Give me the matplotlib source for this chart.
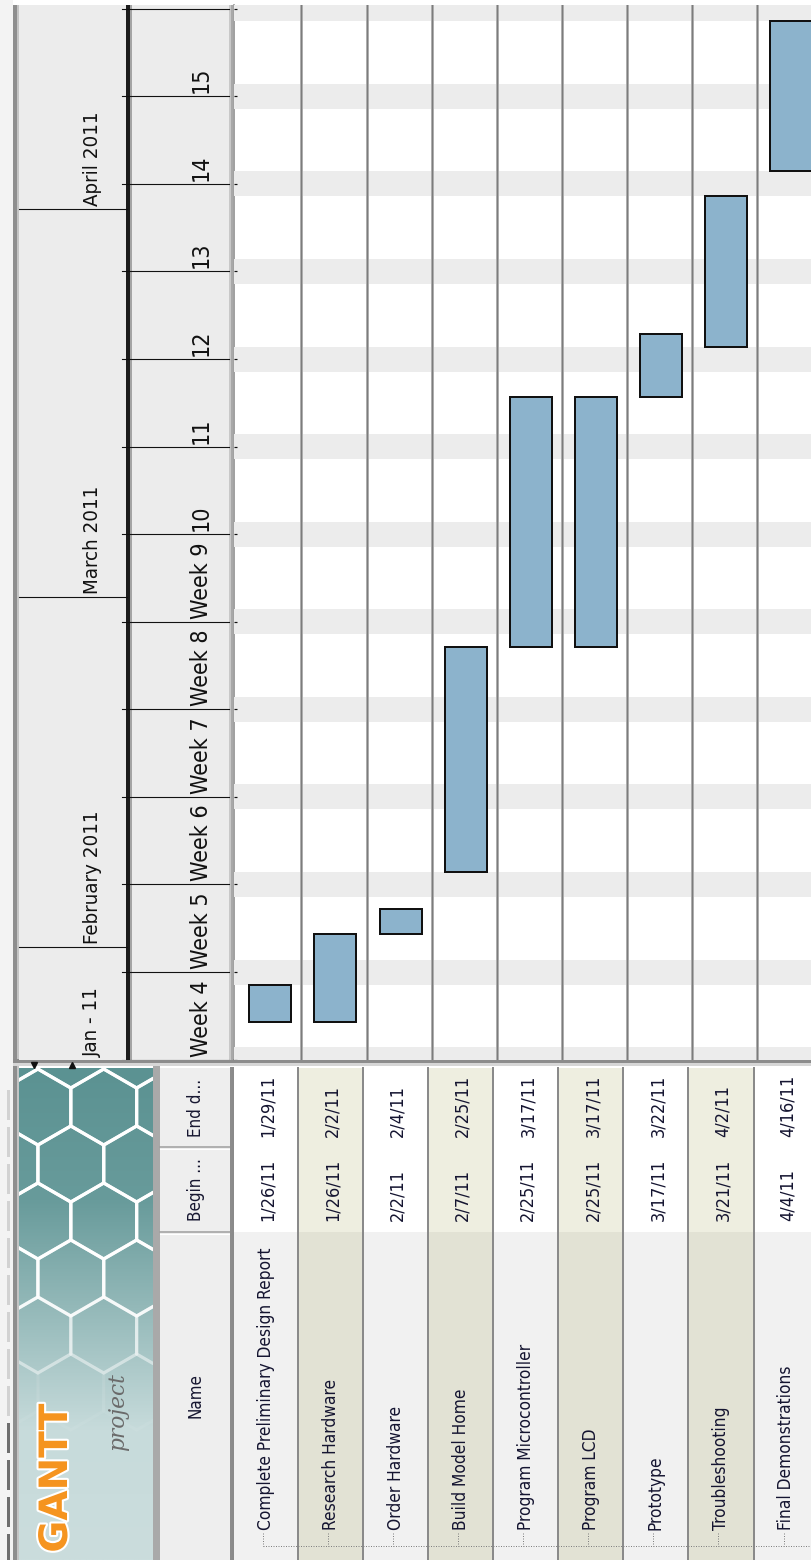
import datetime as dt
import numpy as np
import matplotlib
matplotlib.use("Agg")
import matplotlib.pyplot as plt
import matplotlib.dates as mdates
import matplotlib.patheffects as pe
from matplotlib import font_manager
from matplotlib.colors import to_rgb
from matplotlib.patches import Rectangle, RegularPolygon

# ---------------- data ----------------
tasks = ["Complete Preliminary Design Report", "Research Hardware", "Order Hardware",
         "Build Model Home", "Program Microcontroller", "Program LCD", "Prototype",
         "Troubleshooting", "Final Demonstrations"]
begin_labels = ["1/26/11", "1/26/11", "2/2/11", "2/7/11", "2/25/11", "2/25/11",
                "3/17/11", "3/21/11", "4/4/11"]
end_labels = ["1/29/11", "2/2/11", "2/4/11", "2/25/11", "3/17/11", "3/17/11",
              "3/22/11", "4/2/11", "4/16/11"]
month_labels = ["Jan - 11", "February 2011", "March 2011", "April 2011"]
month_starts = ["2011-01-23", "2011-02-01", "2011-03-01", "2011-04-01"]
week_labels = ["Week 4", "Week 5", "Week 6", "Week 7", "Week 8", "Week 9",
               "10", "11", "12", "13", "14", "15"]
week_starts = ["2011-01-23", "2011-01-30", "2011-02-06", "2011-02-13", "2011-02-20",
               "2011-02-27", "2011-03-06", "2011-03-13", "2011-03-20", "2011-03-27",
               "2011-04-03", "2011-04-10"]
table_headers = ["Name", "Begin ...", "End d..."]

# ---------------- setup ----------------
W, H, DPI = 811, 1560, 100
fig = plt.figure(figsize=(W / DPI, H / DPI), dpi=DPI)
fig.patch.set_facecolor("white")
PT = 72.0 / DPI  # points per pixel


def px_axes(x0, y0, x1, y1, z):
    ax = fig.add_axes([x0 / W, 1 - y1 / H, (x1 - x0) / W, (y1 - y0) / H])
    ax.set_zorder(z)
    ax.axis("off")
    return ax


def num(s):
    return mdates.date2num(dt.datetime.strptime(s, "%Y-%m-%d"))


def num_us(s):
    return mdates.date2num(dt.datetime.strptime(s, "%m/%d/%y"))


def has_family(name):
    try:
        font_manager.findfont(font_manager.FontProperties(family=name),
                              fallback_to_default=False)
        return True
    except Exception:
        return False


if has_family("Liberation Sans Narrow"):
    NARROW = dict(family="Liberation Sans Narrow")
else:
    p = font_manager.findfont(font_manager.FontProperties(family="DejaVu Sans", stretch="condensed"))
    if "Condensed" in p:
        NARROW = dict(family="DejaVu Sans", stretch="condensed")
    else:
        NARROW = dict(family="Liberation Sans")

renderer = fig.canvas.get_renderer()


def fit_size(s, target, **kw):
    t = fig.text(0, 0, s, fontsize=10, **kw)
    w = t.get_window_extent(renderer).width
    t.remove()
    return 10.0 * target / w


# time scale: Jan 23 2011 at pixel y 1059.6, 12.51 px per day
T0 = num("2011-01-23")
PX_DAY = 12.51
Y_BOT, Y_TOP = 1060, 5
YLIM = (T0 - (Y_BOT - 1059.6) / PX_DAY, T0 + (1059.6 - Y_TOP) / PX_DAY)
PAD = 3.0 / PX_DAY

# task rows across x
X0, PITCH = 236.4, 65.07
XLIM = ((234 - X0) / PITCH, (811 - X0) / PITCH)

# ---------------- background / chrome axes ----------------
ax_bg = px_axes(0, 0, W, H, 0)
ax_bg.set_xlim(0, W)
ax_bg.set_ylim(H, 0)

# left window strip
ax_bg.add_patch(Rectangle((0, 0), 13, H, color="#f3f3f3", lw=0))
ax_bg.add_patch(Rectangle((13, 5), 4, H, color="#8e8e8e", lw=0))
ax_bg.add_patch(Rectangle((17, 5), 2, H, color="#c4c4c4", lw=0))
y = 1090
while y < H:
    col = "#d2d2d2" if y < 1420 else "#6e6e6e"
    ax_bg.add_patch(Rectangle((6.5, y), 3.5, 30, color=col, lw=0))
    y += 37

# line under header / gantt
ax_bg.add_patch(Rectangle((13, 1059), W - 13, 4, color="#8c8c8c", lw=0))
ax_bg.add_patch(Rectangle((13, 1063), W - 13, 3, color="#d6d6d6", lw=0))
# gantt left border
ax_bg.plot([233.5, 233.5], [5, 1060], color="#8a8a8a", lw=1.6 * PT, zorder=2)

# splitter arrows
ax_bg.plot([34], [1064.5], marker="v", color="#111111", markersize=5, zorder=5)
ax_bg.plot([72], [1064.5], marker="^", color="#111111", markersize=5, zorder=5)

# ---------------- logo ----------------
LX0, LX1, LY0, LY1 = 19, 153, 1068, 1560
ys = np.linspace(LY0, LY1, 300)
stop_y = [1068, 1200, 1330, 1430, 1560]
stop_c = np.array([to_rgb(c) for c in ["#5b9292", "#689b9b", "#9dbfbf", "#c7dbdb", "#cbdddd"]])
grad = np.stack([np.interp(ys, stop_y, stop_c[:, k]) for k in range(3)], axis=-1)[:, None, :]
ax_bg.imshow(grad, extent=(LX0, LX1, LY1, LY0), aspect="auto", zorder=1,
             interpolation="bilinear")
clip = Rectangle((LX0, LY0), LX1 - LX0, LY1 - LY0, transform=ax_bg.transData)
r = 38
for row in range(-1, 9):
    cy = 1050 + row * 1.5 * r
    off = (row % 2) * np.sqrt(3) * r / 2
    for col in range(-1, 4):
        cx = 5 + col * np.sqrt(3) * r + off
        a = float(np.clip((1400 - cy) / 140, 0, 1))
        if a <= 0:
            continue
        h = RegularPolygon((cx, cy), 6, radius=r, orientation=0, facecolor="none",
                           edgecolor="white", lw=3.2 * PT, alpha=a, zorder=2)
        ax_bg.add_patch(h)
        h.set_clip_path(clip)
fs_g = fit_size("GANTT", 150, family="DejaVu Sans", weight="bold")
ax_bg.text(56, 1478, "GANTT", rotation=90, ha="center", va="center", fontsize=fs_g,
           family="DejaVu Sans", weight="bold", color="#f5941f", zorder=4,
           path_effects=[pe.withStroke(linewidth=3, foreground="white")])
fs_p = fit_size("project", 78, family="DejaVu Serif", style="italic")
ax_bg.text(118, 1412, "project", rotation=90, ha="center", va="center", fontsize=fs_p,
           family="DejaVu Serif", style="italic", color="#6a6a6a", zorder=4)
ax_bg.add_patch(Rectangle((153, 1066), 7, H - 1066, color="#a9a9a9", lw=0, zorder=3))

# ---------------- table header ----------------
ax_bg.add_patch(Rectangle((160, 1068), 72, H - 1068, color="#eeeeee", lw=0, zorder=2))
for yb in (1147, 1232):
    ax_bg.plot([160, 232], [yb, yb], color="#9c9c9c", lw=1.5 * PT, zorder=3)
    ax_bg.plot([160, 232], [yb + 1.5, yb + 1.5], color="#ffffff", lw=1 * PT, zorder=3)
ax_bg.plot([231, 231], [1068, H], color="#8c8c8c", lw=2 * PT, zorder=3)
hdr_kw = dict(NARROW)
fs_hdr = fit_size("Name", 45, **hdr_kw)
for label, yc in zip(table_headers, (1396, 1190, 1108)):
    ax_bg.text(196, yc, label, rotation=90, ha="center", va="center", fontsize=fs_hdr,
               color="#161630", zorder=4, **hdr_kw)

# ---------------- table body ----------------
TX0 = 233.0
fs_name = fit_size(tasks[0], 283, **NARROW)
fs_date = fit_size(begin_labels[0], 62, **NARROW)
for i, (name, bl, el) in enumerate(zip(tasks, begin_labels, end_labels)):
    x0 = TX0 + PITCH * i
    odd = i % 2 == 1
    ax_bg.add_patch(Rectangle((x0, 1068), PITCH, 1232 - 1068,
                              color="#eeeee0" if odd else "#ffffff", lw=0, zorder=2))
    ax_bg.add_patch(Rectangle((x0, 1232), PITCH, H - 1232,
                              color="#e2e2d4" if odd else "#f1f1f1", lw=0, zorder=2))
    xc = x0 + PITCH / 2
    ax_bg.text(xc, 1530, name, rotation=90, ha="center", va="bottom", fontsize=fs_name,
               color="#141430", zorder=4, **NARROW)
    ax_bg.text(xc + 2, 1221, bl, rotation=90, ha="center", va="bottom", fontsize=fs_date,
               color="#141430", zorder=4, **NARROW)
    ax_bg.text(xc + 2, 1137, el, rotation=90, ha="center", va="bottom", fontsize=fs_date,
               color="#141430", zorder=4, **NARROW)
    ax_bg.plot([x0 + 30, x0 + 30], [1533, 1546], color="#808080", lw=1 * PT,
               ls=(0, (1, 1.5)), zorder=4)
for i in range(len(tasks)):
    xl = TX0 + PITCH * i
    ax_bg.plot([xl, xl], [1068, H], color="#8a8a8a", lw=2 * PT, zorder=3)
ax_bg.plot([TX0 + 30, W], [1546, 1546], color="#808080", lw=1 * PT,
           ls=(0, (1, 1.5)), zorder=4)

# ---------------- gantt area ----------------
ax_g = px_axes(234, Y_TOP, W, Y_BOT, 1)
ax_g.set_xlim(*XLIM)
ax_g.set_ylim(*YLIM)
sat = T0 - 1
while sat < YLIM[1]:
    ax_g.axhspan(sat, sat + 2, color="#ececec", lw=0, zorder=0)
    sat += 7
for i in range(1, len(tasks)):
    ax_g.axvline(i, color="#b4b4b4", lw=3 * PT, zorder=1)
    ax_g.axvline(i, color="#7c7c7c", lw=1.2 * PT, zorder=1)
wk_all = [num(s) for s in week_starts] + [num(week_starts[-1]) + 7]
for w in wk_all:
    ax_g.plot([XLIM[0], XLIM[0] + 3.5 / PITCH], [w, w], color="#111111", lw=1.2 * PT,
              zorder=2, solid_capstyle="butt")
b = np.array([num_us(s) for s in begin_labels])
e = np.array([num_us(s) for s in end_labels])
ax_g.bar(np.arange(len(tasks)) + 0.2, e - b, bottom=b, width=0.645, align="edge",
         color="#8cb3cc", edgecolor="#111111", linewidth=2 * PT, zorder=3)

# ---------------- timeline header ----------------
ax_h = px_axes(13, Y_TOP, 234, Y_BOT, 1)
ax_h.set_xlim(13, 234)
ax_h.set_ylim(*YLIM)
ax_h.axvspan(19, 126, color="#ececec", lw=0, zorder=0)
ax_h.axvspan(131, 229, color="#ececec", lw=0, zorder=0)
ax_h.axvspan(126, 130, color="#1c1c1c", lw=0, zorder=2)
ax_h.axvspan(130, 132, color="#a4a4a4", lw=0, zorder=2)
ax_h.axvspan(228.5, 230.5, color="#c8c8c8", lw=0, zorder=2)
ax_h.axvspan(230.5, 232.5, color="#a8a8a8", lw=0, zorder=2)
for ms in month_starts[1:]:
    yv = num(ms)
    ax_h.plot([19, 127], [yv, yv], color="#111111", lw=1.1 * PT, zorder=3)
for w in wk_all:
    ax_h.plot([122, 229], [w, w], color="#111111", lw=1.1 * PT, zorder=3)
fs_month = fit_size("March 2011", 108, **NARROW)
for lab, ms in zip(month_labels, month_starts):
    ax_h.text(92, num(ms) + PAD, lab, rotation=90, ha="center", va="bottom",
              fontsize=fs_month, color="#111111", zorder=4, clip_on=True, **NARROW)
fs_week = fit_size("Week 4", 77, **NARROW)
for lab, ws in zip(week_labels, week_starts):
    ax_h.text(201, num(ws) + PAD, lab, rotation=90, ha="center", va="bottom",
              fontsize=fs_week, color="#111111", zorder=4, clip_on=True, **NARROW)

fig.savefig("out.png", dpi=DPI)
